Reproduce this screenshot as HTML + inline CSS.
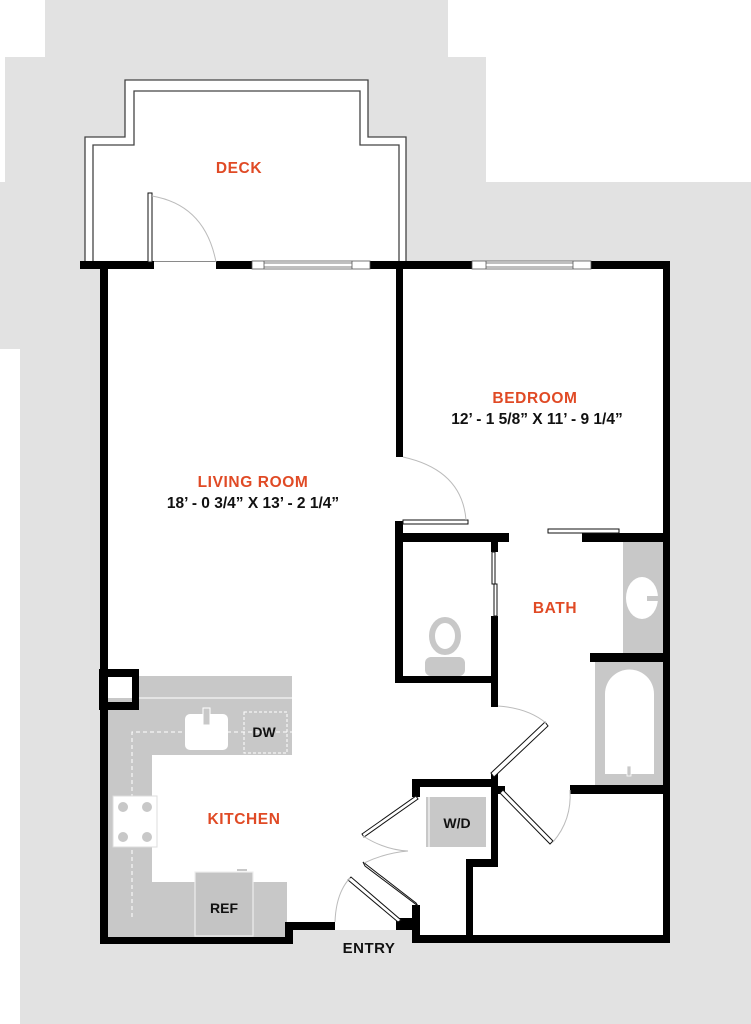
<!DOCTYPE html>
<html><head><meta charset="utf-8"><style>
html,body{margin:0;padding:0;background:#fff;}
svg{display:block;}
text{font-family:"Liberation Sans",sans-serif;font-weight:bold;}
</style></head><body>
<svg width="751" height="1024" viewBox="0 0 751 1024" xmlns="http://www.w3.org/2000/svg">
<path d="M45 0H448V57H486V182H751V1024H20V349H0V182H5V57H45Z" fill="#e2e2e2"/>
<path d="M85 262V137H125V80H368V137H406V262Z" fill="#fff" stroke="#444" stroke-width="1.3"/>
<path d="M93 262V145H134V91H360V145H399V262" fill="none" stroke="#444" stroke-width="1.3"/>
<path d="M100 262H670V943H412V935H420V930H335V922H293V944H100Z" fill="#fff"/>
<rect x="335" y="922" width="61" height="8" fill="#fff"/>
<rect x="139" y="676" width="153" height="79" fill="#c8c8c8"/>
<rect x="107" y="698" width="45" height="239" fill="#c8c8c8"/>
<rect x="152" y="882" width="135" height="55" fill="#c8c8c8"/>
<line x1="139" y1="698" x2="292" y2="698" stroke="#fff" stroke-width="1"/>
<path d="M132 917V732H292" fill="none" stroke="#fff" stroke-width="1" stroke-dasharray="4,3"/>
<rect x="185" y="714" width="43" height="36" rx="5" fill="#fff"/>
<rect x="203" y="708" width="7" height="17" fill="#c8c8c8" stroke="#fff" stroke-width="1"/>
<rect x="244" y="712" width="43" height="41" fill="none" stroke="#fff" stroke-dasharray="3,2"/>
<rect x="113" y="796" width="44" height="51" fill="#fff" stroke="#ddd"/>
<circle cx="123" cy="807" r="5" fill="#c8c8c8"/><circle cx="147" cy="807" r="5" fill="#c8c8c8"/>
<circle cx="123" cy="837" r="5" fill="#c8c8c8"/><circle cx="147" cy="837" r="5" fill="#c8c8c8"/>
<rect x="195" y="872" width="58" height="64" fill="#c4c4c4" stroke="#eee" stroke-width="1.2"/>
<rect x="237" y="869" width="10" height="2" fill="#c8c8c8"/>
<rect x="623" y="542" width="40" height="111" fill="#c8c8c8"/>
<ellipse cx="642" cy="598" rx="16" ry="21" fill="#fff"/>
<rect x="647" y="596" width="12" height="5" fill="#c8c8c8"/>
<rect x="595" y="662" width="68" height="123" fill="#c8c8c8"/>
<path d="M605 774V694A24 24 0 0 1 654 694V774Z" fill="#fff"/>
<rect x="627" y="766" width="4" height="10" fill="#c8c8c8" stroke="#fff" stroke-width="0.8"/>
<ellipse cx="445" cy="636" rx="13" ry="16" fill="none" stroke="#c8c8c8" stroke-width="6"/>
<rect x="425" y="657" width="40" height="19" rx="6" fill="#c8c8c8"/>
<rect x="426" y="797" width="60" height="50" fill="#c8c8c8"/>
<line x1="429" y1="797" x2="429" y2="847" stroke="#fff" stroke-width="1"/>
<g fill="#000">
<rect x="80" y="261" width="74" height="8"/>
<rect x="216" y="261" width="454" height="8"/>
<rect x="100" y="261" width="8" height="683"/>
<rect x="396" y="261" width="7" height="196"/>
<rect x="663" y="261" width="7" height="682"/>
<rect x="100" y="937" width="193" height="7"/>
<rect x="285" y="922" width="8" height="22"/>
<rect x="285" y="922" width="50" height="8"/>
<rect x="396" y="922" width="24" height="8"/>
<rect x="412" y="905" width="8" height="38"/>
<rect x="412" y="935" width="258" height="8"/>
<path d="M99 669H139V710H99ZM107 677V702H132V677Z" fill-rule="evenodd"/>
<rect x="395" y="521" width="8" height="162"/>
<rect x="395" y="533" width="114" height="9"/>
<rect x="582" y="533" width="88" height="9"/>
<rect x="395" y="676" width="103" height="7"/>
<rect x="491" y="542" width="7" height="10"/>
<rect x="491" y="616" width="7" height="91"/>
<rect x="590" y="653" width="80" height="9"/>
<rect x="570" y="785" width="100" height="9"/>
<rect x="412" y="779" width="86" height="8"/>
<rect x="412" y="779" width="8" height="18"/>
<rect x="491" y="773" width="7" height="94"/>
<rect x="498" y="786" width="7" height="8"/>
<rect x="466" y="859" width="32" height="8"/>
<rect x="466" y="859" width="7" height="84"/>
<rect x="396" y="918" width="16" height="8"/>
</g>
<g fill="#fff" stroke="#555" stroke-width="0.8">
<rect x="252" y="261" width="118" height="8"/>
<line x1="264" y1="263" x2="352" y2="263"/><line x1="264" y1="267" x2="352" y2="267"/>
<line x1="264" y1="261" x2="264" y2="269"/><line x1="352" y1="261" x2="352" y2="269"/>
<rect x="472" y="261" width="119" height="8"/>
<line x1="486" y1="263" x2="573" y2="263"/><line x1="486" y1="267" x2="573" y2="267"/>
<line x1="486" y1="261" x2="486" y2="269"/><line x1="573" y1="261" x2="573" y2="269"/>
</g>
<g fill="#fff" stroke="#111" stroke-width="1">
<rect x="148" y="193" width="4" height="69"/>
<rect x="403" y="520" width="65" height="4"/>
<rect x="548" y="529" width="71" height="4"/>
<rect x="492" y="552" width="3" height="32"/><rect x="494" y="584" width="3" height="32"/>
<polygon points="491,773 545,722 548,726 494,777"/>
<polygon points="503,790 553,841 550,844 500,793"/>
<polygon points="362,834 416,796 418,799 364,837"/>
<polygon points="363,862 416,903 418,906 365,866"/>
<polygon points="348,880 398,922 401,920 351,877"/>
</g>
<g fill="none" stroke="#bbb" stroke-width="1">
<path d="M152 196Q205 205 216 262"/>
<path d="M403 457Q462 470 466 520"/>
<path d="M498 706Q528 708 546 723"/>
<path d="M553 842Q572 820 570 790"/>
<path d="M363 836Q385 850 408 851Q385 853 364 863"/>
<path d="M335 922Q336 893 350 878"/>
</g>
<g fill="#e04a25" font-size="15.5" text-anchor="middle" letter-spacing="0.6">
<text x="239" y="173">DECK</text>
<text x="253" y="487">LIVING ROOM</text>
<text x="535" y="403">BEDROOM</text>
<text x="555" y="613">BATH</text>
<text x="244" y="824">KITCHEN</text>
</g>
<g fill="#111" text-anchor="middle" font-size="15.5">
<text x="253" y="508">18’ - 0 3/4” X 13’ - 2 1/4”</text>
<text x="537" y="424">12’ - 1 5/8” X 11’ - 9 1/4”</text>
<text x="264" y="737" font-size="14">DW</text>
<text x="457" y="828" font-size="14">W/D</text>
<text x="224" y="913" font-size="14">REF</text>
<text x="369" y="953" font-size="15" letter-spacing="0.5">ENTRY</text>
</g>
</svg>
</body></html>
